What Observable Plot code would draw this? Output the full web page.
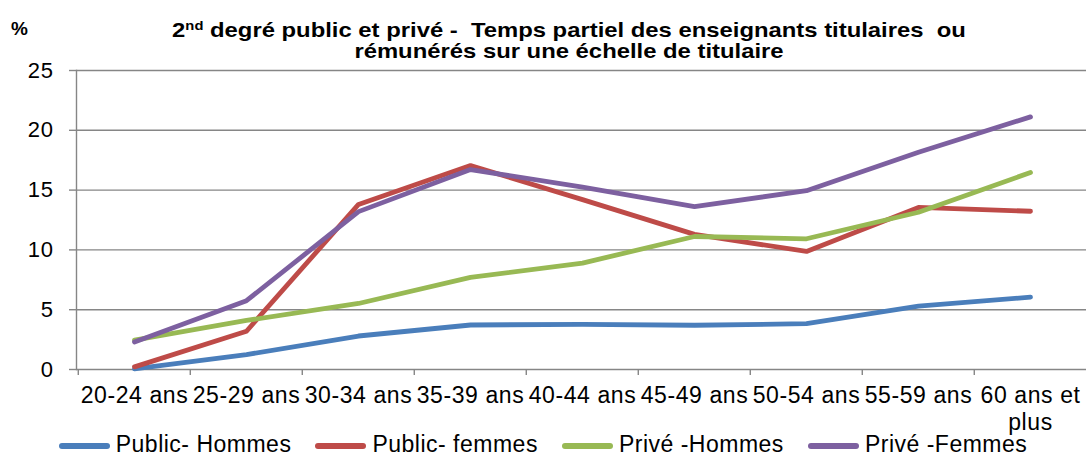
<!DOCTYPE html>
<html>
<head>
<meta charset="utf-8">
<script src="https://cdn.jsdelivr.net/npm/d3@7"></script>
<script src="https://cdn.jsdelivr.net/npm/@observablehq/plot@0.6"></script>
<style>
  html, body { margin: 0; padding: 0; background: #fff; overflow: hidden; }
  #chart { position: relative; width: 1086px; height: 457px; font-family: "Liberation Sans", Arial, sans-serif; color: #000; }
  #chart svg { position: absolute; left: 0; top: 0; }
  #chart svg text { letter-spacing: 0.6px; }
  #pct { position: absolute; left: 11px; top: 17px; font-size: 19px; font-weight: bold; line-height: 24px; }
  #title { position: absolute; left: 69px; width: 1000px; top: 18.6px; text-align: center; font-size: 21px; font-weight: bold; line-height: 21px; white-space: nowrap; transform: scaleX(1.135); transform-origin: 500px 0; }
  #title sup { font-size: 13px; vertical-align: 7px; line-height: 0; }
  #legend { position: absolute; left: 0; width: 1086px; top: 432px; height: 25px; display: flex; justify-content: center; align-items: center; font-size: 23px; letter-spacing: 0.5px; line-height: 25px; white-space: nowrap; }
  .item { display: flex; align-items: center; margin: 0 12px; }
  .sw { width: 51px; height: 6px; border-radius: 3px; margin-right: 6px; margin-top: 3px; }
</style>
</head>
<body>
<div id="chart">
  <div id="pct">%</div>
  <div id="title">2<sup>nd</sup> degré public et privé -&nbsp; Temps partiel des enseignants titulaires&nbsp; ou<br>rémunérés sur une échelle de titulaire</div>
  <div id="legend"></div>
</div>
<script>
const ages = ["20-24 ans", "25-29 ans", "30-34 ans", "35-39 ans", "40-44 ans", "45-49 ans", "50-54 ans", "55-59 ans", "60 ans et plus"];
const seriesNames = ["Public- Hommes", "Public- femmes", "Privé -Hommes", "Privé -Femmes"];
const seriesColors = ["#4A7EBB", "#BE4B48", "#98B954", "#7D60A0"];
const publicHommes = [0.05, 1.25, 2.8, 3.72, 3.78, 3.7, 3.83, 5.3, 6.05];
const publicFemmes = [0.22, 3.2, 13.8, 17.05, 14.2, 11.3, 9.87, 13.55, 13.23];
const priveHommes = [2.46, 4.1, 5.52, 7.7, 8.9, 11.12, 10.93, 13.15, 16.47];
const priveFemmes = [2.3, 5.75, 13.2, 16.72, 15.25, 13.62, 14.95, 18.17, 21.12];
const yTicks = [0, 5, 10, 15, 20, 25];

const allValues = [publicHommes, publicFemmes, priveHommes, priveFemmes];
const rows = seriesNames.flatMap((name, s) => ages.map((age, i) => ({age, value: allValues[s][i], serie: name})));

const gray = "#868686";
const xRange = [76, 1088];
const step = (xRange[1] - xRange[0]) / ages.length;

const chart = Plot.plot({
  width: 1086,
  height: 414,
  marginTop: 70,
  marginBottom: 45,
  marginLeft: 76,
  marginRight: 0,
  style: {fontFamily: '"Liberation Sans", Arial, sans-serif', fontSize: "22px", color: "#000", background: "transparent", overflow: "visible"},
  x: {type: "point", domain: ages, range: xRange, padding: 0.5},
  y: {domain: [0, 25]},
  color: {domain: seriesNames, range: seriesColors},
  marks: [
    Plot.gridY(yTicks, {stroke: gray, strokeOpacity: 1, strokeWidth: 1.4}),
    Plot.frame({anchor: "left", stroke: gray, strokeWidth: 1.4}),
    Plot.axisY({ticks: yTicks, tickSize: 7, tickPadding: 16, stroke: gray, strokeWidth: 1.4, fontSize: 22, label: null}),
    Plot.axisX({tickSize: 6, tickFormat: () => "", dx: -step / 2, stroke: gray, strokeWidth: 1.4, label: null}),
    Plot.axisX({tickSize: 0, tickPadding: 15, fontSize: 23, lineHeight: 1.15, label: null,
      tickFormat: d => d === "60 ans et plus" ? "60 ans et\nplus" : d}),
    Plot.line(rows, {x: "age", y: "value", z: "serie", stroke: "serie", strokeWidth: 4.8, strokeLinecap: "round", strokeLinejoin: "round"})
  ]
});
document.getElementById("chart").prepend(chart);

const legend = document.getElementById("legend");
seriesNames.forEach((name, i) => {
  const item = document.createElement("div");
  item.className = "item";
  const sw = document.createElement("div");
  sw.className = "sw";
  sw.style.background = seriesColors[i];
  const t = document.createElement("span");
  t.textContent = name;
  item.appendChild(sw);
  item.appendChild(t);
  legend.appendChild(item);
});
</script>
</body>
</html>
